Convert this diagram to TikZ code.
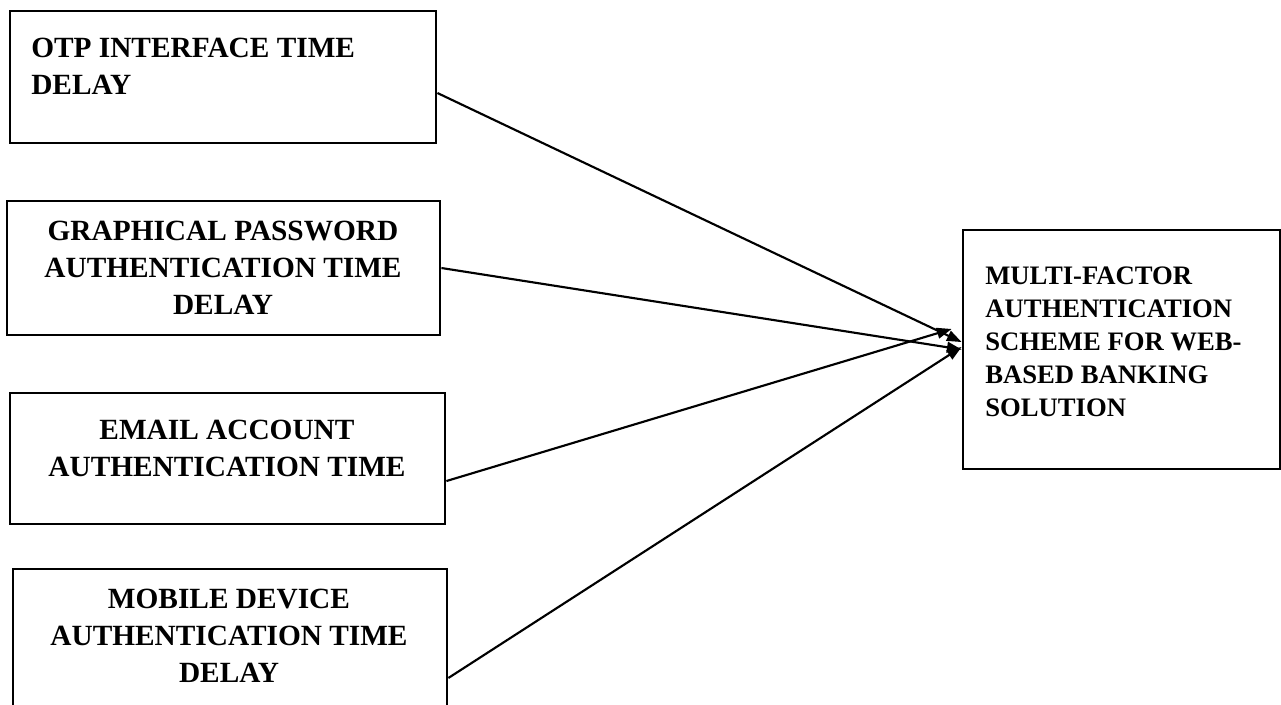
\documentclass[tikz,border=0pt]{standalone}
\usepackage{fontspec}
\setmainfont{Liberation Serif}
\usetikzlibrary{arrows.meta,calc}
\tikzset{
  box/.style={draw=black, line width=2.1pt, rectangle, inner sep=0pt},
  lbl/.style={inner sep=0pt, font=\bfseries\fontsize{22}{27.6}\selectfont},
  rlbl/.style={inner sep=0pt, font=\bfseries\fontsize{20}{24.6}\selectfont},
  conn/.style={line width=1.6pt, -{Triangle[length=11pt,width=8pt]}}
}
\begin{document}
\begin{tikzpicture}[x=0.75pt,y=-0.75pt]
\useasboundingbox (0,0) rectangle (1281,704);
\clip (0,0) rectangle (1281,704);
% boxes
\node[box, minimum width=319.5pt, minimum height=99pt] (b1) at (223,77) {};
\node[box, minimum width=324.75pt, minimum height=100.5pt] (b2) at (223.5,268) {};
\node[box, minimum width=326.25pt, minimum height=98.25pt] (b3) at (227.5,458.5) {};
\node[box, minimum width=325.5pt, minimum height=107.25pt] (b4) at (230,640.5) {};
\node[box, minimum width=237.75pt, minimum height=179.25pt] (b5) at (1121.5,349.5) {};
% labels
\node[lbl, anchor=north west, align=left] (l1) at (31,38) {OTP INTERFACE TIME\\DELAY};
\node[lbl, anchor=north, align=center] (l2) at (223,221) {GRAPHICAL PASSWORD\\AUTHENTICATION TIME\\DELAY};
\node[lbl, anchor=north, align=center] (l3) at (227,420) {EMAIL ACCOUNT\\AUTHENTICATION TIME};
\node[lbl, anchor=north, align=center] (l4) at (229,589) {MOBILE DEVICE\\AUTHENTICATION TIME\\DELAY};
\node[rlbl, anchor=north west, align=left] (l5) at (985,267) {MULTI-FACTOR\\AUTHENTICATION\\SCHEME FOR WEB-\\BASED BANKING\\SOLUTION};
% connectors
\draw[conn] ([yshift=-12pt]b1.east) -- ([yshift=5.6pt]b5.west);
\draw[conn] (b2.east) -- (b5.west);
\draw[conn] ([yshift=-16.9pt]b3.east) -- ([xshift=-7.5pt,yshift=15.4pt]b5.west);
\draw[conn] ([yshift=-28.1pt]b4.east) -- ([yshift=1.9pt]b5.west);
\end{tikzpicture}
\end{document}
